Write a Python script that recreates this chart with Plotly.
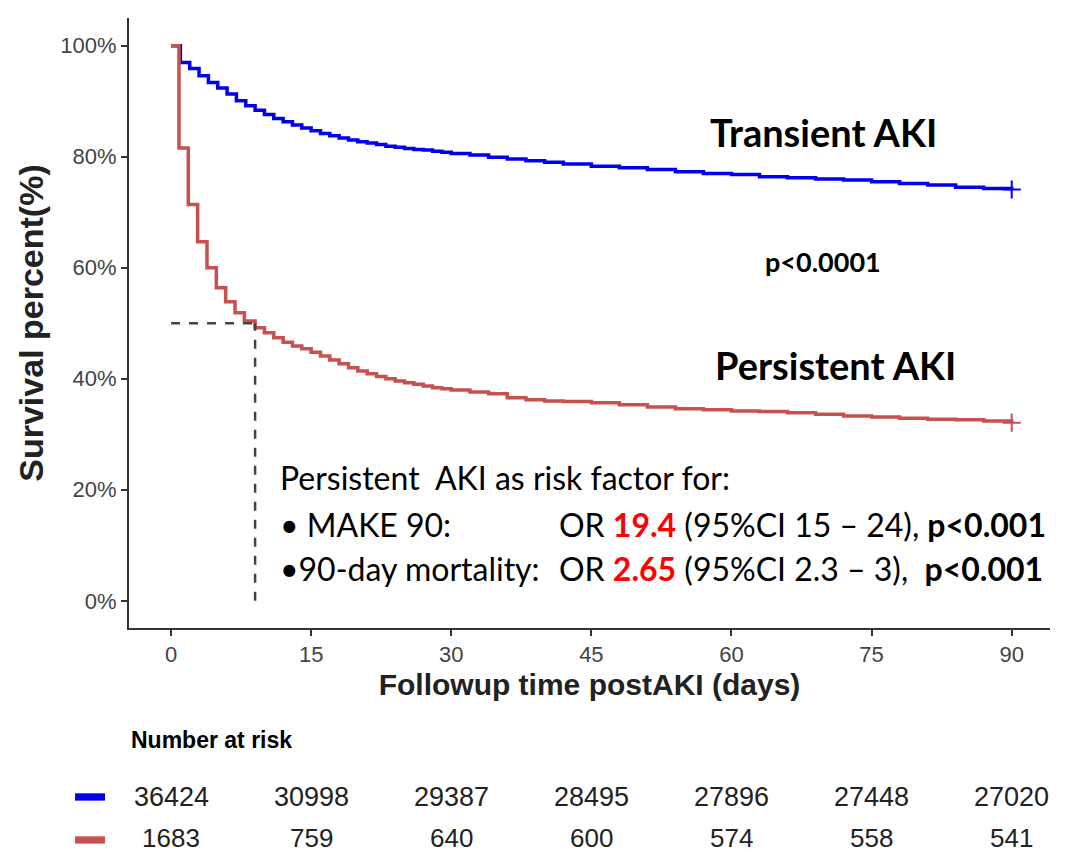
import plotly.graph_objects as go

# ---------------- data ----------------
blue_t = [0, 1, 2, 3, 4, 5, 6, 7, 8, 9, 10, 11, 12, 13, 14, 15, 16, 17, 18, 19, 20,
          21, 22, 23, 24, 25, 26, 27, 28, 29, 30, 32, 34, 36, 38, 40, 42, 45, 48, 51,
          54, 57, 60, 63, 66, 69, 72, 75, 78, 81, 84, 87, 90]
blue_s = [100, 97.0, 95.9, 94.6, 93.4, 92.4, 91.3, 90.1, 89.2, 88.4, 87.6, 86.9, 86.3,
          85.7, 85.2, 84.7, 84.2, 83.8, 83.4, 83.0, 82.7, 82.5, 82.2, 81.9, 81.7, 81.5,
          81.3, 81.2, 81.0, 80.8, 80.6, 80.3, 79.9, 79.6, 79.3, 79.0, 78.7, 78.3, 78.0,
          77.7, 77.3, 77.0, 76.8, 76.4, 76.2, 76.0, 75.8, 75.5, 75.2, 74.9, 74.5, 74.3, 74.1]

red_t = [0, 0.85, 1.85, 2.85, 3.85, 4.85, 5.85, 6.85, 7.85, 9, 10, 11, 12, 13, 14, 15, 16,
         17, 18, 19, 20, 21, 22, 23, 24, 25, 26, 27, 28, 29, 30, 32, 34, 36, 38, 40, 42,
         45, 48, 51, 54, 57, 60, 63, 66, 69, 72, 75, 78, 81, 84, 87, 90]
red_s = [100, 81.6, 71.4, 64.7, 60.0, 56.4, 53.9, 51.9, 50.4, 49.2, 48.3, 47.4, 46.6,
         45.9, 45.4, 44.8, 44.1, 43.4, 42.7, 42.0, 41.4, 40.9, 40.4, 40.0, 39.6, 39.3,
         39.0, 38.7, 38.4, 38.2, 38.0, 37.6, 37.3, 36.6, 36.2, 36.0, 35.9, 35.7, 35.3,
         34.9, 34.6, 34.4, 34.2, 34.1, 33.9, 33.6, 33.3, 33.1, 32.9, 32.7, 32.6, 32.4, 32.1]

median_time = 9
median_surv = 50

x_ticks = [0, 15, 30, 45, 60, 75, 90]
y_ticks = [0, 20, 40, 60, 80, 100]
y_tick_labels = ["0%", "20%", "40%", "60%", "80%", "100%"]

risk_blue = [36424, 30998, 29387, 28495, 27896, 27448, 27020]
risk_red = [1683, 759, 640, 600, 574, 558, 541]

BLUE = "#0000EE"
RED = "#C8504F"

fig = go.Figure()
fig.add_trace(go.Scatter(x=blue_t, y=blue_s, mode="lines", line=dict(color=BLUE, width=3.5, shape="hv"),
                         showlegend=False, hoverinfo="skip"))
fig.add_trace(go.Scatter(x=red_t, y=red_s, mode="lines", line=dict(color=RED, width=3.5, shape="hv"),
                         showlegend=False, hoverinfo="skip"))
# censor marks at the end
fig.add_trace(go.Scatter(x=[blue_t[-1]], y=[blue_s[-1]], mode="markers",
                         marker=dict(symbol="cross-thin", size=13, line=dict(width=2, color=BLUE)),
                         showlegend=False, hoverinfo="skip"))
fig.add_trace(go.Scatter(x=[red_t[-1]], y=[red_s[-1]], mode="markers",
                         marker=dict(symbol="cross-thin", size=13, line=dict(width=2, color=RED)),
                         showlegend=False, hoverinfo="skip"))

# median lines
fig.add_shape(type="line", x0=0, x1=median_time, y0=median_surv, y1=median_surv, xref="x", yref="y",
              line=dict(color="#444444", width=2.5, dash="dash"))
fig.add_shape(type="line", x0=median_time, x1=median_time, y0=0, y1=median_surv, xref="x", yref="y",
              line=dict(color="#444444", width=2.5, dash="dash"))

TXT = "Lato"
ann = []
ann.append(dict(x=69.8, y=84.5, xref="x", yref="y", text="<b>Transient AKI</b>", showarrow=False,
                font=dict(family=TXT, size=38, color="black")))
ann.append(dict(x=69.8, y=61.1, xref="x", yref="y", text="<b>p<0.0001</b>", showarrow=False,
                font=dict(family=TXT, size=27, color="black")))
ann.append(dict(x=71.1, y=42.5, xref="x", yref="y", text="<b>Persistent AKI</b>", showarrow=False,
                font=dict(family=TXT, size=38, color="black")))
ann.append(dict(x=11.45, y=22.2, xref="x", yref="y", xanchor="left", text="Persistent  AKI as risk factor for:",
                showarrow=False, font=dict(family=TXT, size=32, color="black")))
ann.append(dict(x=11.45, y=13.7, xref="x", yref="y", xanchor="left", text="• MAKE 90:",
                showarrow=False, font=dict(family=TXT, size=32, color="black")))
ann.append(dict(x=41.3, y=13.7, xref="x", yref="y", xanchor="left",
                text="OR <b><span style='color:#FF0000'>19.4</span></b> (95%CI 15 – 24), <b>p<0.001</b>",
                showarrow=False, font=dict(family=TXT, size=32, color="black")))
ann.append(dict(x=11.45, y=5.9, xref="x", yref="y", xanchor="left", text="•90-day mortality:",
                showarrow=False, font=dict(family=TXT, size=32, color="black")))
ann.append(dict(x=41.3, y=5.9, xref="x", yref="y", xanchor="left",
                text="OR <b><span style='color:#FF0000'>2.65</span></b> (95%CI 2.3 – 3),  <b>p<0.001</b>",
                showarrow=False, font=dict(family=TXT, size=32, color="black")))

# number at risk table
ARIAL = "Liberation Sans, Arial"
ann.append(dict(x=0.0, y=-0.1836, xref="paper", yref="paper", xanchor="left", yanchor="middle",
                text="<b>Number at risk</b>", showarrow=False, font=dict(family=ARIAL, size=23, color="black")))
for t, b, r in zip(x_ticks, risk_blue, risk_red):
    ann.append(dict(x=t, y=-0.277, xref="x", yref="paper", xanchor="center", yanchor="middle", text=str(b),
                    showarrow=False, font=dict(family=ARIAL, size=27, color="#222222")))
    ann.append(dict(x=t, y=-0.344, xref="x", yref="paper", xanchor="center", yanchor="middle", text=str(r),
                    showarrow=False, font=dict(family=ARIAL, size=26, color="#222222")))
fig.add_shape(type="rect", xref="paper", yref="paper", x0=-0.0586, x1=-0.026, y0=-0.271, y1=-0.283,
              fillcolor=BLUE, line=dict(width=0))
fig.add_shape(type="rect", xref="paper", yref="paper", x0=-0.0586, x1=-0.026, y0=-0.3415, y1=-0.3535,
              fillcolor=RED, line=dict(width=0))

fig.update_layout(
    width=1066, height=846,
    margin=dict(l=121, r=24, t=10, b=226),
    paper_bgcolor="white", plot_bgcolor="white",
    annotations=ann,
    xaxis=dict(range=[-4.5, 94.1], tickvals=x_ticks, ticks="outside", ticklen=6, tickwidth=2,
               tickcolor="#333333", showline=True, linecolor="#333333", linewidth=2,
               showgrid=False, zeroline=False,
               tickfont=dict(family=ARIAL, size=22, color="#444444"),
               title=dict(text="<b>Followup time postAKI (days)</b>", standoff=8,
                          font=dict(family=ARIAL, size=30, color="#222222"))),
    yaxis=dict(range=[-4.9, 105], tickvals=y_ticks, ticktext=y_tick_labels, ticks="outside", ticklen=6,
               tickwidth=2, tickcolor="#333333", showline=True, linecolor="#333333", linewidth=2,
               showgrid=False, zeroline=False,
               tickfont=dict(family=ARIAL, size=22, color="#444444"),
               title=dict(text="<b>Survival percent(%)</b>", standoff=6,
                          font=dict(family=ARIAL, size=34, color="#222222"))),
)

fig.write_html("out.html")
